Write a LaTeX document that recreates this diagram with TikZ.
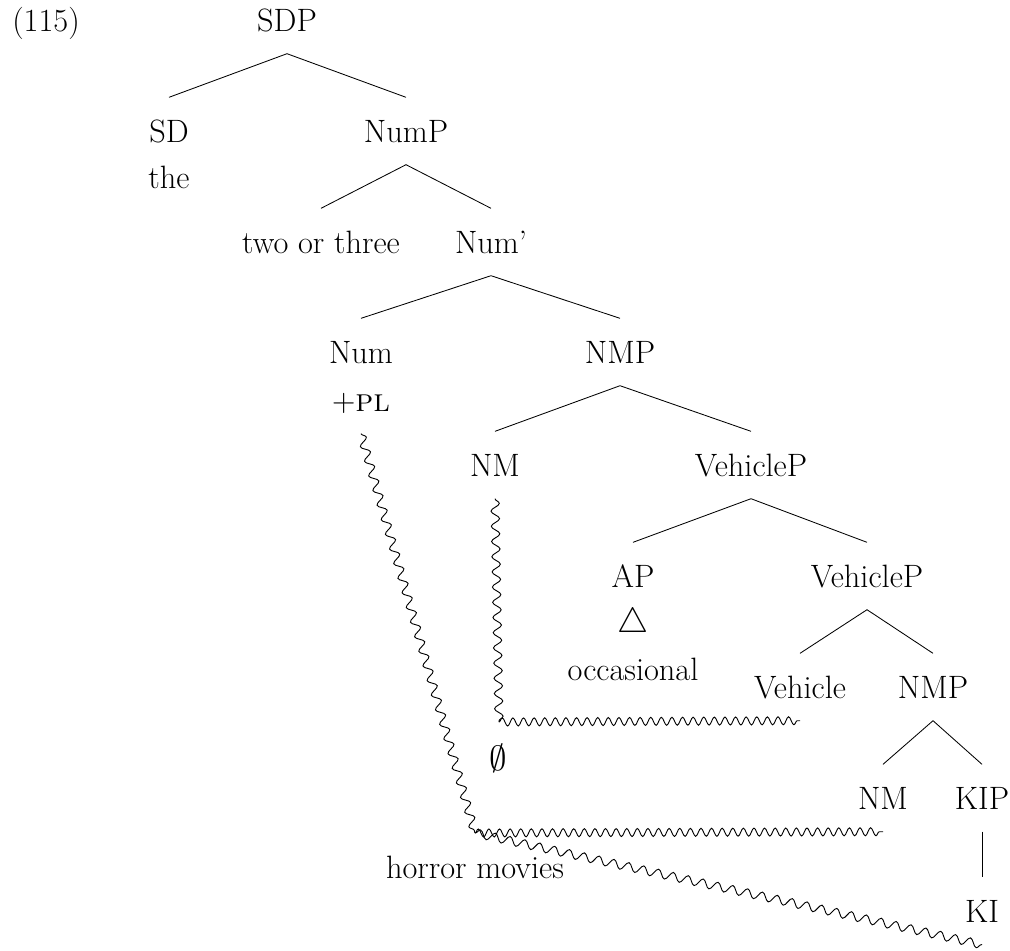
\documentclass[tikz,border=0pt]{standalone}
\usetikzlibrary{decorations.pathmorphing}
\begin{document}
\begin{tikzpicture}[x=0.025cm, y=-0.025cm,
  every node/.style={font=\fontsize{23}{27}\selectfont},
  cat/.style={inner sep=0pt, text height=0.55cm, text depth=0pt, minimum height=1.67cm},
  flat/.style={inner sep=0pt},
  branch/.style={line width=0.6pt},
  wavy/.style={line width=0.65pt, decorate,
    decoration={snake, segment length=0.38cm, amplitude=0.105cm}},
  wavyflat/.style={line width=0.65pt, decorate,
    decoration={snake, segment length=0.265cm, amplitude=0.1cm}}]
\useasboundingbox (0,0) rectangle (1010,950);

% example number
\node[flat, anchor=base west] (ex) at (12,31) {(115)};

% categories
\node[cat] (sdp)    at (287,20)  {SDP};
\node[cat] (sd)     at (169,131) {SD};
\node[cat] (nump)   at (406,131) {NumP};
\node[flat, anchor=base] (the) at (169,188) {the};
\node[cat] (two)    at (321,242) {two or three};
\node[cat] (numbar) at (491,242) {Num’};
\node[cat] (num)    at (361,352) {Num};
\node[cat] (pl)     at (361,400) {+\textsc{pl}};
\node[cat] (nmp1)   at (620,352) {NMP};
\node[cat] (nm1)    at (495,465) {NM};
\node[cat] (vp1)    at (751,465) {VehicleP};
\node[cat] (ap)     at (633,576) {AP};
\node[cat] (vp2)    at (867,576) {VehicleP};
\node[flat, font=\fontsize{27}{30}\selectfont] (tri) at (633,624) {$\triangle$};
\node[flat, anchor=base] (occ) at (633,680) {occasional};
\node[cat] (veh)    at (800,687) {Vehicle};
\node[cat] (nmp2)   at (933,687) {NMP};
\node[flat] (empty) at (498,758) {$\emptyset$};
\node[cat] (nm2)    at (883,798) {NM};
\node[cat] (kip)    at (982,798) {KIP};
\node[cat] (ki)     at (982,911) {KI};
\node[flat, anchor=base] (horror) at (475,878) {horror movies};

% branches
\draw[branch] (sd.north) -- (sdp.south) -- (nump.north);
\draw[branch] (two.north) -- (nump.south) -- (numbar.north);
\draw[branch] (num.north) -- (numbar.south) -- (nmp1.north);
\draw[branch] (nm1.north) -- (nmp1.south) -- (vp1.north);
\draw[branch] (ap.north) -- (vp1.south) -- (vp2.north);
\draw[branch] (veh.north) -- (vp2.south) -- (nmp2.north);
\draw[branch] (nm2.north) -- (nmp2.south) -- (kip.north);
\draw[branch] (kip.south) -- (ki.north);

% movement paths
\coordinate (c1) at (499,722);
\coordinate (c2) at (475,833);
\draw[wavy] (nm1.south) -- (c1);
\draw[wavyflat] (c1) -- (veh.south);
\draw[wavy] (pl.south) -- (c2);
\draw[wavyflat] (c2) -- (nm2.south);
\draw[wavy] (c2) -- (ki.south);
\end{tikzpicture}
\end{document}
